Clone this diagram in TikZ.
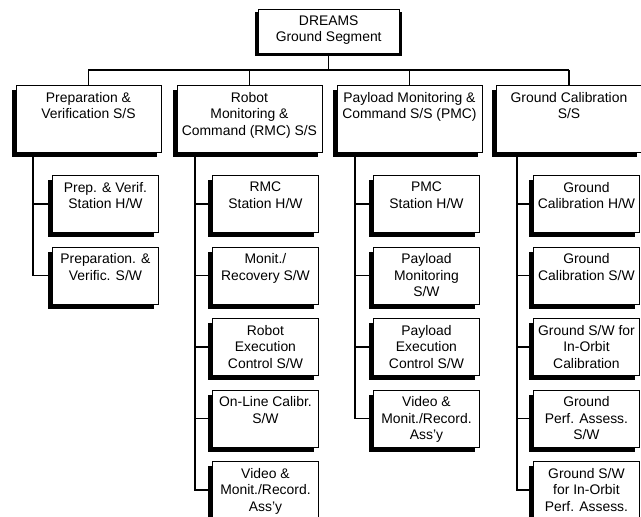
\documentclass[tikz,border=0pt]{standalone}
\usepackage{fontspec}
\setmainfont{Liberation Sans}
\usetikzlibrary{shadows}
\newcommand\diagfont{\fontsize{13.9}{16.5}\selectfont}
\tikzset{
  box/.style={draw, line width=0.9pt, fill=white, rectangle, inner sep=0pt,
    drop shadow={shadow xshift=-4pt, shadow yshift=-5pt, opacity=1, fill=black}},
  topbox/.style={draw, line width=0.9pt, fill=white, rectangle, inner sep=0pt,
    minimum width=141.5pt, minimum height=43.7pt, anchor=north west},
  midbox/.style={box, minimum width=145pt, minimum height=67pt, anchor=north west},
  cbox/.style={box, minimum width=106pt, minimum height=57pt, anchor=north west},
  lbl/.style={anchor=north, align=center, inner sep=0pt, font=\diagfont},
  wire/.style={line width=1.2pt}
}
\begin{document}
\begin{tikzpicture}[x=1pt,y=-1pt]
\useasboundingbox (0,0) rectangle (641,517);

% top
\fill (254.5,11.8) rectangle (402,55.5);
\node[topbox] (top) at (257.5,9.3) {};
\node[lbl] at ([yshift=-6pt]top.north) {DREAMS\\Ground Segment};

% level 2
\node[midbox] (b1) at (15.5,85) {};
\node[midbox] (b2) at (176.5,85) {};
\node[midbox] (b3) at (336.5,85) {};
\node[midbox] (b4) at (496,85) {};
\node[lbl] at ([yshift=-7pt]b1.north) {Preparation \&\\Verification S/S};
\node[lbl] at ([yshift=-7pt]b2.north) {Robot\\Monitoring \&\\Command (RMC) S/S};
\node[lbl] at ([yshift=-7pt]b3.north) {Payload Monitoring \&\\Command S/S (PMC)};
\node[lbl] at ([yshift=-7pt]b4.north) {Ground Calibration\\S/S};

\coordinate (bar) at (0,70);
\draw[wire] (top.south) -- (top.south |- bar);
\draw[wire] (b1.north |- bar) -- (b4.north |- bar);
\foreach \b in {b1,b2,b3,b4} \draw[wire] (\b.north |- bar) -- (\b.north);

% level 3 column 1
\node[cbox] (c1a) at (52,175) {};
\node[cbox] (c1b) at (52,246.5) {};
\node[lbl] at ([yshift=-7pt]c1a.north) {Prep. \& Verif.\\Station H/W};
\node[lbl] at ([yshift=-7pt]c1b.north) {Preparation. \&\\Verific. S/W};

% column 2
\node[cbox] (c2a) at (212,175) {};
\node[cbox] (c2b) at (212,246.5) {};
\node[cbox] (c2c) at (212,318) {};
\node[cbox] (c2d) at (212,389.5) {};
\node[cbox] (c2e) at (212,461) {};
\node[lbl] at ([yshift=-7pt]c2a.north) {RMC\\Station H/W};
\node[lbl] at ([yshift=-7pt]c2b.north) {Monit./\\Recovery S/W};
\node[lbl] at ([yshift=-7pt]c2c.north) {Robot\\Execution\\Control S/W};
\node[lbl] at ([yshift=-7pt]c2d.north) {On-Line Calibr.\\S/W};
\node[lbl] at ([yshift=-7pt]c2e.north) {Video \&\\Monit./Record.\\Ass{\char"27}y};

% column 3
\node[cbox] (c3a) at (373,175) {};
\node[cbox] (c3b) at (373,246.5) {};
\node[cbox] (c3c) at (373,318) {};
\node[cbox] (c3d) at (373,389.5) {};
\node[lbl] at ([yshift=-7pt]c3a.north) {PMC\\Station H/W};
\node[lbl] at ([yshift=-7pt]c3b.north) {Payload\\Monitoring\\S/W};
\node[lbl] at ([yshift=-7pt]c3c.north) {Payload\\Execution\\Control S/W};
\node[lbl] at ([yshift=-7pt]c3d.north) {Video \&\\Monit./Record.\\Ass{\char"27}y};

% column 4
\node[cbox] (c4a) at (533,175) {};
\node[cbox] (c4b) at (533,246.5) {};
\node[cbox] (c4c) at (533,318) {};
\node[cbox] (c4d) at (533,389.5) {};
\node[cbox] (c4e) at (533,461) {};
\node[lbl] at ([yshift=-7pt]c4a.north) {Ground\\Calibration H/W};
\node[lbl] at ([yshift=-7pt]c4b.north) {Ground\\Calibration S/W};
\node[lbl] at ([yshift=-7pt]c4c.north) {Ground S/W for\\In-Orbit\\Calibration};
\node[lbl] at ([yshift=-7pt]c4d.north) {Ground\\Perf. Assess.\\S/W};
\node[lbl] at ([yshift=-7pt]c4e.north) {Ground S/W\\for In-Orbit\\Perf. Assess.};

% spines
\coordinate (s1) at (33,0);
\coordinate (s2) at (195,0);
\coordinate (s3) at (355,0);
\coordinate (s4) at (517,0);
\draw[wire] (b1.south -| s1) |- (c1b.west);
\draw[wire] (b2.south -| s2) |- (c2e.west);
\draw[wire] (b3.south -| s3) |- (c3d.west);
\draw[wire] (b4.south -| s4) |- (c4e.west);
\foreach \c in {c1a} \draw[wire] (\c.west -| s1) -- (\c.west);
\foreach \c in {c2a,c2b,c2c,c2d} \draw[wire] (\c.west -| s2) -- (\c.west);
\foreach \c in {c3a,c3b,c3c} \draw[wire] (\c.west -| s3) -- (\c.west);
\foreach \c in {c4a,c4b,c4c,c4d} \draw[wire] (\c.west -| s4) -- (\c.west);
\end{tikzpicture}
\end{document}
